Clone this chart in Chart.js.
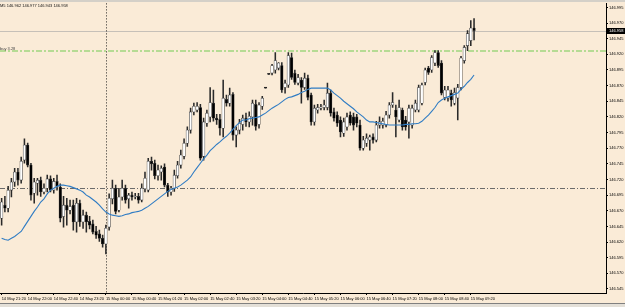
<!DOCTYPE html>
<html>
<head>
<meta charset="utf-8">
<script src="https://cdn.jsdelivr.net/npm/chart.js@4.4.1/dist/chart.umd.min.js"></script>
<style>
  html,body{margin:0;padding:0;background:#faebd7;}
  #wrap{width:625px;height:307px;position:relative;}
</style>
</head>
<body>
<div id="wrap"><canvas id="chart" width="625" height="307"></canvas></div>
<script>
// M5 bars, 14 May 21:20 -> 15 May 09:25
const symbolTitle = "M5";

const opens = [
  146.658,146.679,146.674,146.703,146.716,146.732,146.719,146.751,146.775,146.743,
  146.698,146.714,146.719,146.700,146.706,146.721,146.703,146.717,146.708,146.661,
  146.679,146.671,146.679,146.652,146.682,146.652,146.663,146.653,146.649,146.637,
  146.633,146.626,146.617,146.644,146.689,146.706,146.671,146.692,146.706,146.689,
  146.695,146.692,146.693,146.687,146.705,146.703,146.749,146.746,146.726,146.732,
  146.740,146.711,146.700,146.706,146.726,146.743,146.757,146.778,146.799,146.828,
  146.831,146.835,146.757,146.810,146.820,146.842,146.818,146.816,146.802,146.848,
  146.842,146.856,146.791,146.799,146.808,146.818,146.812,146.820,146.840,146.808,
  146.837,146.866,146.888,146.890,146.895,146.898,146.902,146.867,146.871,146.915,
  146.890,146.874,146.879,146.867,146.882,146.855,146.812,146.831,146.834,146.835,
  146.835,146.858,146.828,146.823,146.815,146.794,146.804,146.823,146.820,146.820,
  146.807,146.770,146.778,146.783,146.788,146.783,146.807,146.807,146.807,146.823,
  146.839,146.831,146.815,146.831,146.815,146.812,146.807,146.831,146.831,146.842,
  146.875,146.898,146.895,146.906,146.923,146.906,146.851,146.850,146.858,146.842,
  146.850,146.867,146.910,146.934,146.942,146.962
];
const highs = [
  146.690,146.693,146.709,146.722,146.738,146.738,146.756,146.785,146.778,146.746,
  146.722,146.722,146.724,146.713,146.727,146.726,146.722,146.727,146.713,146.693,
  146.690,146.687,146.687,146.690,146.687,146.671,146.668,146.661,146.655,146.645,
  146.639,146.631,146.647,146.697,146.719,146.711,146.706,146.719,146.711,146.698,
  146.700,146.698,146.698,146.713,146.732,146.754,146.756,146.751,146.743,146.742,
  146.745,146.714,146.709,146.735,146.749,146.767,146.785,146.804,146.834,146.842,
  146.843,146.840,146.818,146.831,146.867,146.863,146.824,146.824,146.879,146.855,
  146.866,146.859,146.804,146.816,146.823,146.826,146.828,146.847,146.847,146.843,
  146.853,146.866,146.888,146.904,146.923,146.907,146.907,146.879,146.923,146.922,
  146.895,146.888,146.883,146.890,146.887,146.858,146.839,146.840,146.840,146.847,
  146.874,146.863,146.834,146.828,146.820,146.818,146.826,146.828,146.826,146.824,
  146.815,146.789,146.793,146.791,146.793,146.813,146.820,146.818,146.829,146.843,
  146.859,146.839,146.847,146.834,146.821,146.839,146.839,146.847,146.871,146.874,
  146.898,146.901,146.918,146.926,146.926,146.910,146.869,146.869,146.863,146.866,
  146.872,146.917,146.934,146.958,146.974,146.977
];
const lows = [
  146.647,146.668,146.668,146.692,146.709,146.711,146.714,146.746,146.740,146.687,
  146.682,146.695,146.693,146.697,146.700,146.700,146.698,146.703,146.652,146.644,
  146.647,146.665,146.639,146.636,146.645,146.642,146.636,146.641,146.633,146.626,
  146.621,146.612,146.601,146.639,146.681,146.665,146.668,146.687,146.682,146.674,
  146.687,146.689,146.682,146.684,146.700,146.700,146.735,146.721,146.719,146.719,
  146.708,146.693,146.695,146.701,146.722,146.738,146.753,146.773,146.794,146.823,
  146.828,146.751,146.751,146.805,146.812,146.813,146.808,146.791,146.788,146.837,
  146.837,146.783,146.772,146.793,146.799,146.805,146.804,146.807,146.799,146.802,
  146.832,146.866,146.888,146.887,146.890,146.895,146.859,146.858,146.867,146.880,
  146.872,146.871,146.842,146.864,146.847,146.807,146.807,146.826,146.831,146.831,
  146.831,146.821,146.813,146.805,146.788,146.789,146.799,146.807,146.799,146.804,
  146.767,146.767,146.773,146.767,146.778,146.780,146.802,146.802,146.804,146.818,
  146.835,146.788,146.812,146.799,146.799,146.786,146.802,146.828,146.828,146.839,
  146.871,146.888,146.891,146.902,146.899,146.855,146.847,146.845,146.837,146.839,
  146.815,146.863,146.906,146.926,146.934,146.943
];
const closes = [
  146.684,146.674,146.703,146.716,146.732,146.719,146.749,146.775,146.743,146.695,
  146.716,146.719,146.700,146.706,146.721,146.703,146.717,146.709,146.658,146.679,
  146.671,146.677,146.652,146.682,146.652,146.663,146.652,146.647,146.636,146.631,
  146.626,146.617,146.642,146.690,146.706,146.669,146.692,146.706,146.687,146.695,
  146.692,146.693,146.687,146.706,146.722,146.749,146.745,146.726,146.735,146.738,
  146.711,146.700,146.706,146.727,146.743,146.759,146.778,146.799,146.828,146.837,
  146.837,146.754,146.812,146.826,146.843,146.818,146.815,146.802,146.850,146.842,
  146.855,146.791,146.799,146.810,146.818,146.812,146.821,146.842,146.805,146.839,
  146.850,146.866,146.888,146.902,146.910,146.906,146.863,146.874,146.918,146.883,
  146.875,146.883,146.867,146.882,146.851,146.812,146.834,146.835,146.835,146.839,
  146.858,146.826,146.818,146.810,146.796,146.812,146.820,146.810,146.807,146.810,
  146.770,146.783,146.786,146.788,146.783,146.807,146.812,146.813,146.823,146.839,
  146.843,146.820,146.835,146.804,146.804,146.834,146.834,146.842,146.867,146.871,
  146.895,146.891,146.915,146.923,146.902,146.858,146.863,146.863,146.847,146.859,
  146.867,146.914,146.931,146.953,146.962,146.958
];
// moving average (blue)
const maValues = [
  146.626,146.624,146.623,146.626,146.629,146.633,146.637,146.645,146.653,146.661,
  146.669,146.676,146.684,146.689,146.697,146.703,146.706,146.709,146.711,146.711,
  146.710,146.709,146.707,146.705,146.703,146.700,146.695,146.692,146.688,146.684,
  146.679,146.673,146.668,146.665,146.663,146.662,146.661,146.662,146.664,146.665,
  146.667,146.668,146.669,146.671,146.674,146.677,146.681,146.685,146.689,146.693,
  146.697,146.701,146.704,146.706,146.708,146.711,146.715,146.719,146.724,146.732,
  146.739,146.746,146.753,146.759,146.766,146.771,146.776,146.780,146.785,146.789,
  146.794,146.800,146.806,146.811,146.815,146.815,146.817,146.818,146.819,146.820,
  146.823,146.826,146.830,146.834,146.837,146.840,146.844,146.848,146.851,146.852,
  146.854,146.856,146.859,146.861,146.864,146.866,146.866,146.866,146.866,146.866,
  146.866,146.863,146.858,146.854,146.850,146.845,146.841,146.837,146.833,146.828,
  146.824,146.820,146.815,146.812,146.812,146.811,146.810,146.809,146.808,146.807,
  146.807,146.807,146.807,146.807,146.808,146.808,146.809,146.809,146.810,146.813,
  146.818,146.823,146.829,146.835,146.843,146.847,146.850,146.852,146.854,146.856,
  146.858,146.864,146.869,146.875,146.880,146.887
];

const xTickLabels = [
  "14 May 21:20","14 May 22:00","14 May 22:40","14 May 23:20","15 May 00:00",
  "15 May 00:40","15 May 01:20","15 May 02:00","15 May 02:40","15 May 03:20",
  "15 May 04:00","15 May 04:40","15 May 05:20","15 May 06:00","15 May 06:40",
  "15 May 07:20","15 May 08:00","15 May 08:40","15 May 09:20"
];
const yTicks = [
  146.995,146.970,146.945,146.920,146.895,146.870,146.845,146.820,146.795,146.770,
  146.745,146.720,146.695,146.670,146.645,146.620,146.595,146.570,146.545
];
const yMin = 146.5386;
const yMax = 147.0014;

const bidPrice = 146.958;
const buyLevel = 146.925;
const buyText = "buy 3.28";
const stopLevel = 146.706;
const separatorTime = "15 May 00:00";

// time slots incl. the empty shift area on the right
const totalSlots = 186;
const categories = [];
for(let i=0;i<totalSlots;i++){
    const m = 21*60+20 + i*5;
    const day = m >= 1440 ? 15 : 14;
    const mm = m % 1440;
    categories.push(day+" May "+String(Math.floor(mm/60)).padStart(2,"0")+":"+String(mm%60).padStart(2,"0"));
}

const fmt = v=>v.toFixed(3);
const FONT = "Liberation Sans";

function levelLine(c, a, py, color, dash, width){
    c.lineWidth = width;
    c.setLineDash(dash);
    c.strokeStyle = color;
    c.beginPath(); c.moveTo(a.left,py); c.lineTo(a.right,py); c.stroke();
}

const overlays = {
    id:"overlays",
    beforeDraw(chart){
        const c = chart.ctx;
        c.save();
        c.fillStyle = "#faebd7";
        c.fillRect(0,0,chart.width,chart.height);
        c.restore();
    },
    beforeDatasetsDraw(chart){
        const c = chart.ctx;
        const a = chart.chartArea;
        const y = chart.scales.y;
        const x = chart.scales.x;
        c.save();

        levelLine(c, a, Math.round(y.getPixelForValue(bidPrice))+0.5, "#c6c0b8", [], 1);
        levelLine(c, a, Math.round(y.getPixelForValue(buyLevel)), "#72cc52", [6,2,2,2], 1.2);
        levelLine(c, a, Math.round(y.getPixelForValue(stopLevel))+0.5, "#6a6a6a", [5,2,1,2], 1);

        // day separator
        const px = Math.round(x.getPixelForValue(categories.indexOf(separatorTime)))+0.5;
        c.lineWidth = 1;
        c.setLineDash([1,2]);
        c.strokeStyle = "#222";
        c.beginPath(); c.moveTo(px,a.top); c.lineTo(px,a.bottom); c.stroke();
        c.restore();
    },
    afterDraw(chart){
        const c = chart.ctx;
        const a = chart.chartArea;
        const y = chart.scales.y;
        const last = closes.length-1;
        c.save();
        c.font = "4px '"+FONT+"'";
        c.textBaseline = "middle";
        c.fillStyle = "#111";
        c.fillText(symbolTitle+" "+fmt(opens[last])+" "+fmt(highs[last])+" "+fmt(lows[last])+" "+fmt(closes[last]), 0, 6);
        c.fillStyle = "#444";
        c.fillText(buyText, 0, y.getPixelForValue(buyLevel)-2.5);

        // bid box on price scale
        const by = y.getPixelForValue(bidPrice);
        c.fillStyle = "#000";
        c.fillRect(a.right+1, Math.round(by)-3, chart.width-a.right-1, 6);
        c.fillStyle = "#fff";
        c.fillText(fmt(bidPrice), a.right+3, by);

        // window edges
        c.fillStyle = "#d4d0c8";
        c.fillRect(0,0,chart.width,2);
        c.fillStyle = "#e4e0d8";
        c.fillRect(0,304,chart.width,3);
        c.fillStyle = "#808080";
        c.fillRect(0,303,chart.width,1);
        c.restore();
    }
};

const bodies = opens.map((o,i)=>[Math.min(o,closes[i]), Math.max(o,closes[i])]);
const wicks = lows.map((l,i)=>[l, highs[i]]);
const bodyFill = opens.map((o,i)=>closes[i] > o ? "#ffffff" : "#000000");

new Chart(document.getElementById("chart"),{
    type:"bar",
    data:{
        labels:categories,
        datasets:[
            {
                type:"line",
                data:maValues,
                borderColor:"#2f7cc4",
                borderWidth:1.1,
                pointRadius:0,
                fill:false,
                tension:0,
                order:0
            },
            {
                data:bodies,
                backgroundColor:bodyFill,
                borderColor:"#3a3a3a",
                borderWidth:0.6,
                borderSkipped:false,
                barThickness:2.6,
                minBarLength:1,
                grouped:false,
                order:1
            },
            {
                data:wicks,
                backgroundColor:"#2a2a2a",
                barThickness:0.9,
                grouped:false,
                order:2
            }
        ]
    },
    options:{
        responsive:false,
        animation:false,
        devicePixelRatio:1,
        layout:{padding:{top:3,left:0,right:0,bottom:0}},
        plugins:{legend:{display:false},tooltip:{enabled:false}},
        scales:{
            x:{
                offset:true,
                grid:{
                    display:true,
                    drawOnChartArea:false,
                    offset:false,
                    tickLength:2,
                    color:ctx=>xTickLabels.includes(categories[ctx.index]) ? "#000" : "rgba(0,0,0,0)"
                },
                border:{display:true,color:"#000"},
                ticks:{
                    autoSkip:false,
                    maxRotation:0,
                    minRotation:0,
                    align:"start",
                    padding:1,
                    color:"#000",
                    font:{family:FONT,size:4},
                    callback:(v,i)=>xTickLabels.includes(categories[i]) ? categories[i] : ""
                },
                afterFit:s=>{ s.height = 14; }
            },
            y:{
                position:"right",
                min:yMin,
                max:yMax,
                afterBuildTicks:s=>{ s.ticks = yTicks.map(v=>({value:v})); },
                grid:{display:true,drawOnChartArea:false,tickLength:2,color:"#000"},
                border:{display:true,color:"#000"},
                ticks:{
                    padding:1,
                    color:"#000",
                    font:{family:FONT,size:4},
                    callback:v=>fmt(v)
                },
                afterFit:s=>{ s.width = 19; }
            }
        }
    },
    plugins:[overlays]
});
</script>
</body>
</html>
